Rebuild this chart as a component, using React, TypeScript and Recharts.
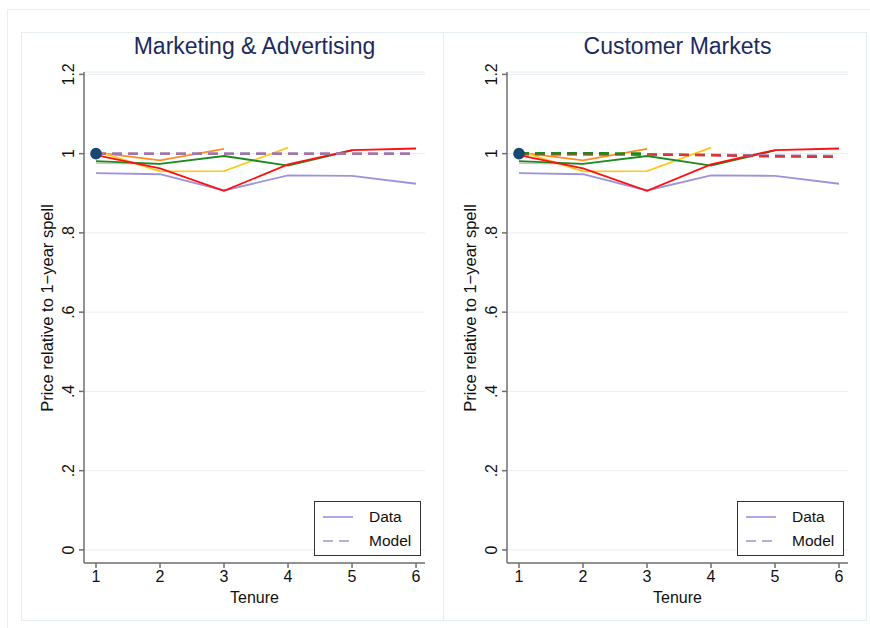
import React from 'react';
import { LineChart, Line, XAxis, YAxis, CartesianGrid, Label } from 'recharts';

const tenure = [1, 2, 3, 4, 5, 6];
const dataAvg = [0.951, 0.948, 0.907, 0.945, 0.944, 0.924];
const spell1 = [1.0, null, null, null, null, null];
const spell2 = [0.976, 0.974, null, null, null, null];
const spell3 = [1.003, 0.983, 1.012, null, null, null];
const spell4 = [1.007, 0.955, 0.956, 1.015, null, null];
const spell5 = [0.981, 0.974, 0.994, 0.970, 1.008, null];
const spell6 = [0.996, 0.963, 0.906, 0.973, 1.009, 1.013];
const modelLeftAvg = [1.0, 1.0, 1.0, 1.0, 1.0, 1.0];
const modelRightAvg = [0.998, 0.998, 0.998, 0.997, 0.995, 0.994];
const modelRightSpell6 = [0.999, 0.999, 0.998, 0.996, 0.993, 0.992];
const modelRightSpell5 = [1.001, 1.001, 1.0, null, null, null];
const yTicks = [0, 0.2, 0.4, 0.6, 0.8, 1, 1.2];
const xTicks = [1, 2, 3, 4, 5, 6];
const titles = ['Marketing & Advertising', 'Customer Markets'];

const C = {
  avg: '#9c94dc',
  gray: '#c9c9c9',
  orange: '#ff8c1e',
  yellow: '#ffc81e',
  green: '#1e8a1e',
  red: '#ff1010',
  navy: '#1a476f',
  mauve: '#9f78a9',
};

const FONT = '"Liberation Sans", Arial, Helvetica, sans-serif';

const buildRows = (model: { avg: (number | null)[]; s6?: (number | null)[]; s5?: (number | null)[] }) =>
  tenure.map((t, i) => ({
    t,
    avg: dataAvg[i],
    s1: spell1[i],
    s2: spell2[i],
    s3: spell3[i],
    s4: spell4[i],
    s5: spell5[i],
    s6: spell6[i],
    mAvg: model.avg[i],
    m6: model.s6 ? model.s6[i] : null,
    m5: model.s5 ? model.s5[i] : null,
  }));

const fmtY = (v: number) => {
  if (v === 0) return '0';
  if (v === 1) return '1';
  if (v < 1) return String(v).replace(/^0/, '');
  return String(v);
};

const YTick = (props: any) => {
  const { x, y, payload } = props;
  return (
    <g transform={`translate(${x - 1},${y}) rotate(-90)`}>
      <text textAnchor="middle" x={0} y={0} fontSize={16} fill="#111" fontFamily={FONT}>
        {fmtY(payload.value)}
      </text>
    </g>
  );
};

const LegendBox = () => (
  <div
    style={{
      position: 'absolute',
      left: 314,
      top: 501,
      width: 107,
      height: 55,
      boxSizing: 'border-box',
      border: '1px solid #333',
      background: '#fff',
      fontFamily: FONT,
      fontSize: 15,
      color: '#111',
    }}
  >
    <svg width={105} height={53} style={{ position: 'absolute', left: 0, top: 0 }}>
      <line x1={8} x2={38} y1={15} y2={15} stroke={C.avg} strokeWidth={1.6} />
      <line x1={8} x2={38} y1={39} y2={39} stroke={C.avg} strokeWidth={1.6} strokeDasharray="10 6" />
      <text x={54} y={20} fontSize={15.5} fill="#111" fontFamily={FONT}>Data</text>
      <text x={54} y={44} fontSize={15.5} fill="#111" fontFamily={FONT}>Model</text>
    </svg>
  </div>
);

const Panel = ({ idx, left }: { idx: number; left: number }) => {
  const rows = idx === 0
    ? buildRows({ avg: modelLeftAvg })
    : buildRows({ avg: modelRightAvg, s6: modelRightSpell6, s5: modelRightSpell5 });
  const solid = (key: string, color: string) => (
    <Line
      key={key}
      dataKey={key}
      type="linear"
      stroke={color}
      strokeWidth={1.8}
      dot={false}
      activeDot={false}
      connectNulls={false}
      isAnimationActive={false}
    />
  );
  const dashed = (key: string, color: string) => (
    <Line
      key={key}
      dataKey={key}
      type="linear"
      stroke={color}
      strokeWidth={2.6}
      strokeDasharray="10 6"
      dot={false}
      activeDot={false}
      connectNulls={false}
      isAnimationActive={false}
    />
  );
  return (
    <div style={{ position: 'absolute', left, top: 0, width: 440, height: 628 }}>
      <LineChart
        width={440}
        height={628}
        data={rows}
        margin={{ top: 72, right: 15, bottom: 15, left: 44 }}
        style={{ position: 'absolute', left: 0, top: 0 }}
      >
        <CartesianGrid horizontal vertical={false} stroke="#e6eef1" strokeWidth={1} />
        <XAxis
          dataKey="t"
          type="number"
          domain={[0.8125, 6.14]}
          ticks={xTicks}
          allowDataOverflow
          height={50}
          tickSize={5}
          tickMargin={3}
          stroke="#6f6f6f"
          strokeWidth={1.5}
          tick={{ fontSize: 16, fill: '#111', fontFamily: FONT }}
          tickLine={{ stroke: '#6f6f6f' }}
        >
          <Label value="Tenure" position="insideBottom" offset={10} fontSize={16} fill="#111" fontFamily={FONT} />
        </XAxis>
        <YAxis
          type="number"
          domain={[-0.033, 1.206]}
          ticks={yTicks}
          allowDataOverflow
          width={40}
          tickSize={5}
          tickMargin={4}
          stroke="#6f6f6f"
          strokeWidth={1.5}
          tick={<YTick />}
          tickLine={{ stroke: '#6f6f6f' }}
        >
          <Label
            content={() => (
              <text
                transform="rotate(-90)"
                x={-308}
                y={53}
                textAnchor="middle"
                fontSize={16.5}
                fill="#111"
                fontFamily={FONT}
              >
                Price relative to 1−year spell
              </text>
            )}
          />
        </YAxis>
        {solid('s2', C.gray)}
        {solid('avg', C.avg)}
        {solid('s3', C.orange)}
        {solid('s4', C.yellow)}
        {solid('s5', C.green)}
        {solid('s6', C.red)}
        {idx === 0 ? dashed('mAvg', C.mauve) : null}
        {idx === 1 ? dashed('mAvg', C.avg) : null}
        {idx === 1 ? dashed('m6', '#d23a3a') : null}
        {idx === 1 ? dashed('m5', C.green) : null}
        <Line
          dataKey="s1"
          stroke={C.navy}
          strokeWidth={1.6}
          dot={{ r: 5, fill: C.navy, stroke: C.navy }}
          activeDot={false}
          isAnimationActive={false}
        />
      </LineChart>
      <div
        style={{
          position: 'absolute',
          left: 84,
          width: 341,
          top: 33,
          textAlign: 'center',
          fontFamily: FONT,
          fontSize: 23,
          color: '#1c2b5e',
          whiteSpace: 'nowrap',
        }}
      >
        {titles[idx]}
      </div>
      <LegendBox />
    </div>
  );
};

export default function App() {
  return (
    <div style={{ position: 'absolute', left: 0, top: 0, width: 870, height: 628, background: '#fff', overflow: 'hidden' }}>
      <div style={{ position: 'absolute', left: 7, top: 9, width: 880, height: 640, borderLeft: '1px solid #e6eef2', borderTop: '1px solid #e6eef2' }} />
      <div style={{ position: 'absolute', left: 21, top: 32, width: 423, height: 589, border: '1px solid #e6eef2', boxSizing: 'border-box' }} />
      <div style={{ position: 'absolute', left: 443, top: 32, width: 424, height: 589, border: '1px solid #e6eef2', boxSizing: 'border-box' }} />
      <Panel idx={0} left={0} />
      <Panel idx={1} left={423} />
    </div>
  );
}
